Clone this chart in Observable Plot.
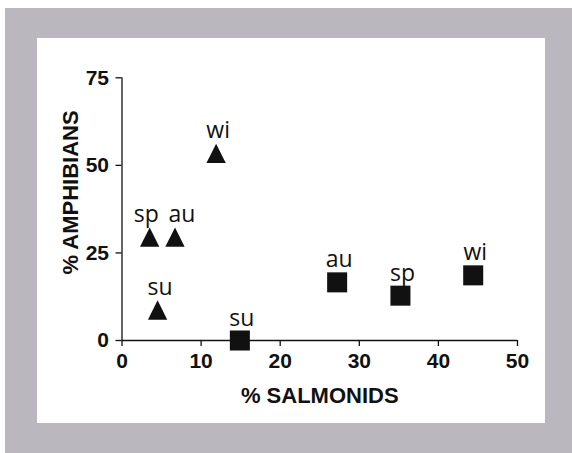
<!DOCTYPE html>
<html>
<head>
<meta charset="utf-8">
<script src="https://cdn.jsdelivr.net/npm/d3@7"></script>
<script src="https://cdn.jsdelivr.net/npm/@observablehq/plot@0.6"></script>
<style>
  html, body { margin: 0; padding: 0; background: #ffffff; width: 572px; height: 453px; overflow: hidden; }
  #bg { position: absolute; left: 5px; top: 8px; right: 0; bottom: 0; background: #bab8be; }
  #panel { position: absolute; left: 37px; top: 38px; width: 508px; height: 385px; background: #ffffff; }
  #panel svg { display: block; }
</style>
</head>
<body>
<div id="bg"></div>
<div id="panel"></div>
<script>
// Data
const seasons   = ["sp", "su", "au", "wi"];
const triSalm   = [3.5, 4.5, 6.7, 11.9];   // % salmonids, triangles
const triAmph   = [29.5, 8.7, 29.5, 53.4]; // % amphibians, triangles
const sqSalm    = [35.2, 14.9, 27.2, 44.4]; // % salmonids, squares
const sqAmph    = [12.8, 0, 16.6, 18.6];    // % amphibians, squares
const xTicks    = [0, 10, 20, 30, 40, 50];
const yTicks    = [0, 25, 50, 75];
const xTitle    = "% SALMONIDS";
const yTitle    = "% AMPHIBIANS";

const triangles = seasons.map((s, i) => ({season: s, x: triSalm[i], y: triAmph[i]}));
const squares   = seasons.map((s, i) => ({season: s, x: sqSalm[i], y: sqAmph[i]}));

// isosceles triangle about as tall as it is wide
const tri = {
  draw(context, size) {
    const h = Math.sqrt(size);
    context.moveTo(0, -h / 2);
    context.lineTo(h / 2, h / 2);
    context.lineTo(-h / 2, h / 2);
    context.closePath();
  }
};

const tickFont = "'Liberation Sans', Arial, sans-serif";
const labelFont = "'Open Sans', 'Noto Sans', sans-serif";
const labelOpts = { x: "x", y: "y", text: "season", lineAnchor: "bottom", dy: -15, fontSize: 23, fontFamily: labelFont, fontWeight: "normal", fill: "#111" };
const triLabel = (s) => triangles.filter(d => d.season === s);

const chart = Plot.plot({
  width: 508,
  height: 385,
  marginLeft: 84.5,
  marginRight: 28,
  marginTop: 39.3,
  marginBottom: 83,
  style: { background: "transparent", fontFamily: tickFont, color: "#111" },
  x: { domain: [0, 50], ticks: xTicks },
  y: { domain: [0, 75], ticks: yTicks },
  marks: [
    Plot.ruleY([0], { stroke: "#111", strokeWidth: 1.3 }),
    Plot.ruleX([0], { stroke: "#111", strokeWidth: 1.3 }),
    Plot.axisX({ ticks: xTicks, tickSize: 6, tickPadding: 7, fontSize: 21, fontWeight: "bold", fill: "#111", label: null, strokeWidth: 1.3 }),
    Plot.axisY({ ticks: yTicks, tickSize: 6, tickPadding: 7, fontSize: 21, fontWeight: "bold", fill: "#111", label: null, strokeWidth: 1.3 }),
    Plot.text([xTitle], { frameAnchor: "bottom", lineAnchor: "bottom", dy: 62, fontSize: 22, fontWeight: "bold", fill: "#111", fontFamily: tickFont }),
    Plot.text([yTitle], { frameAnchor: "left", lineAnchor: "bottom", textAnchor: "middle", rotate: -90, dx: -44.5, dy: -16.7, fontSize: 22, fontWeight: "bold", fill: "#111", fontFamily: tickFont }),
    Plot.dot(triangles, { x: "x", y: "y", symbol: tri, r: 10.9, fill: "#111", stroke: null }),
    Plot.dot(squares, { x: "x", y: "y", symbol: "square", r: 11.3, fill: "#111", stroke: null }),
    Plot.text(triLabel("sp"), { ...labelOpts, dx: -3.5 }),
    Plot.text(triLabel("au"), { ...labelOpts, dx: 7 }),
    Plot.text(triLabel("su"), { ...labelOpts, dx: 2.5 }),
    Plot.text(triLabel("wi"), { ...labelOpts, dx: 2 }),
    Plot.text(squares, { ...labelOpts, dx: 2 })
  ]
});
document.getElementById("panel").appendChild(chart);
</script>
</body>
</html>
